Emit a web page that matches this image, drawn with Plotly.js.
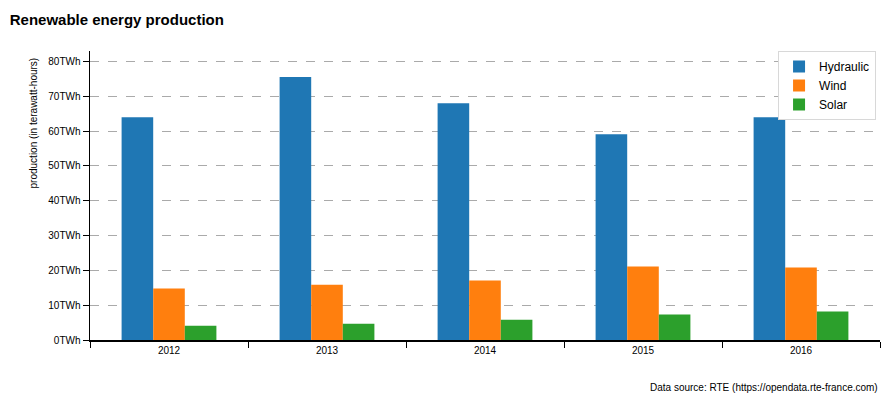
<!DOCTYPE html>
<html>
<head>
<meta charset="utf-8">
<script src="https://cdn.plot.ly/plotly-3.0.1.min.js"></script>
<style>html,body{margin:0;padding:0;background:#fff;}#chart{width:886px;height:398px;}</style>
</head>
<body>
<div id="chart"></div>
<script>
const years = ["2012", "2013", "2014", "2015", "2016"];
const hydraulic = [64.0, 75.5, 68.0, 59.1, 64.0];
const wind = [14.8, 15.9, 17.1, 21.1, 20.8];
const solar = [4.1, 4.7, 5.8, 7.3, 8.2];
const yTicks = [0, 10, 20, 30, 40, 50, 60, 70, 80];
const yTickLabels = yTicks.map(v => v + "TWh");

const traces = [
  {type: "bar", name: "Hydraulic", x: years, y: hydraulic, marker: {color: "#1f77b4"}},
  {type: "bar", name: "Wind", x: years, y: wind, marker: {color: "#ff7f0e"}},
  {type: "bar", name: "Solar", x: years, y: solar, marker: {color: "#2ca02c"}}
];

const layout = {
  width: 886, height: 398,
  margin: {l: 90, r: 6, t: 51, b: 58},
  paper_bgcolor: "#fff", plot_bgcolor: "#fff",
  font: {family: "Liberation Sans, Arial, sans-serif", color: "#000", size: 10},
  title: {text: "<b>Renewable energy production</b>", x: 0.011, xanchor: "left", y: 0.95, yanchor: "middle", font: {size: 15}},
  barmode: "group", bargap: 0.4, bargroupgap: 0,
  showlegend: true,
  legend: {x: 0.995, xanchor: "right", y: 1, yanchor: "top", bordercolor: "#d8d8d8", borderwidth: 1, bgcolor: "#fff", font: {size: 12}, itemwidth: 30, tracegroupgap: 0},
  xaxis: {type: "category", showline: true, linecolor: "#000", linewidth: 1.5, ticks: "outside", tickson: "boundaries", ticklen: 6, tickcolor: "#000", showgrid: false, tickfont: {size: 10}},
  yaxis: {range: [0, 83], tickvals: yTicks, ticktext: yTickLabels, showline: true, linecolor: "#000", linewidth: 1.5, ticks: "outside", ticklen: 6, tickcolor: "#000",
          showgrid: true, gridcolor: "#aaa", griddash: "dash", gridwidth: 1, zeroline: false, tickfont: {size: 10}},
  annotations: [
    {text: "production (in terawatt-hours)", xref: "paper", yref: "paper", x: -0.071, xanchor: "center", y: 0.986, yanchor: "top", textangle: -90, showarrow: false, font: {size: 10}},
    {text: "Data source: RTE (https://opendata.rte-france.com)", xref: "paper", yref: "paper", x: 1, xanchor: "right", y: -0.14, yanchor: "top", showarrow: false, font: {size: 10}}
  ]
};

Plotly.newPlot("chart", traces, layout, {displayModeBar: false, staticPlot: true});
</script>
</body>
</html>
